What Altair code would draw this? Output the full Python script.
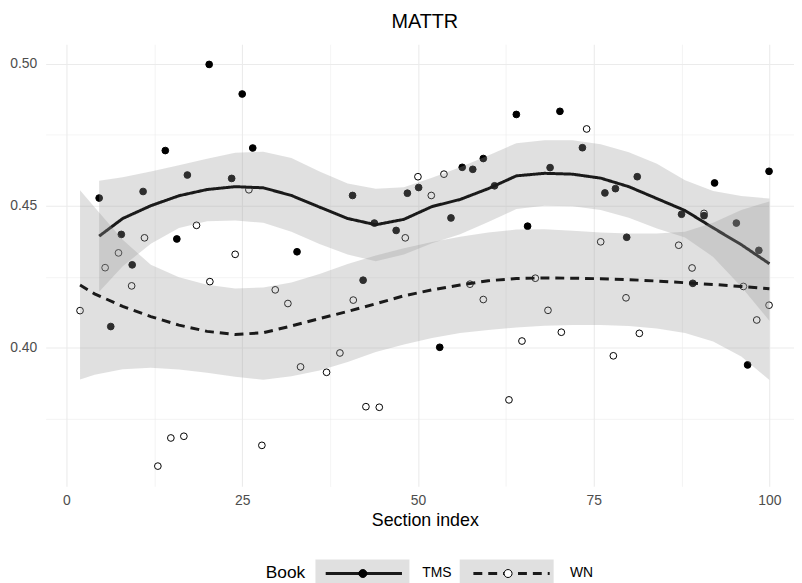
import altair as alt
import pandas as pd

F = "Liberation Sans"

# ---- observed points ----
TMS_x = [4.65, 6.3, 7.8, 9.35, 10.9, 14.06, 15.7, 17.2, 20.3, 23.5, 25.0, 26.5, 32.8, 40.7,
         42.2, 43.8, 46.9, 48.5, 50.1, 53.1, 54.7, 56.3, 57.8, 59.3, 60.9, 64.0, 65.6, 68.8,
         70.2, 73.4, 76.6, 78.1, 79.7, 81.2, 87.5, 89.1, 90.7, 92.2, 95.3, 96.9, 98.5, 99.95]
TMS_y = [0.4527, 0.4075, 0.4399, 0.4292, 0.4550, 0.4694, 0.4383, 0.4608, 0.4997, 0.4596,
         0.4893, 0.4703, 0.4338, 0.4536, 0.4238, 0.4439, 0.4413, 0.4544, 0.4564, 0.4002,
         0.4457, 0.4635, 0.4628, 0.4666, 0.4570, 0.4821, 0.4428, 0.4634, 0.4832, 0.4704,
         0.4545, 0.4560, 0.4389, 0.4602, 0.4470, 0.4227, 0.4465, 0.4580, 0.4439, 0.3940,
         0.4343, 0.4621]

WN_x = [1.93, 5.5, 7.4, 9.27, 11.1, 13.0, 14.85, 16.7, 18.5, 20.4, 24.0, 25.95, 27.8, 29.7,
        31.5, 33.3, 37.0, 38.9, 40.8, 42.6, 44.5, 48.2, 50.0, 51.9, 53.7, 57.4, 59.3, 62.95,
        64.8, 66.7, 68.5, 70.4, 74.0, 76.0, 77.8, 79.6, 81.5, 87.1, 89.0, 90.7, 96.3, 98.2, 99.95]
WN_y = [0.4131, 0.4282, 0.4334, 0.4218, 0.4387, 0.3584, 0.3683, 0.3689, 0.4431, 0.4233,
        0.4329, 0.4556, 0.3657, 0.4204, 0.4156, 0.3933, 0.3914, 0.3982, 0.4168, 0.3793,
        0.3791, 0.4387, 0.4602, 0.4536, 0.4611, 0.4224, 0.4170, 0.3817, 0.4024, 0.4245,
        0.4132, 0.4055, 0.4770, 0.4373, 0.3972, 0.4176, 0.4051, 0.4361, 0.4281, 0.4473,
        0.4216, 0.4098, 0.4150]

# ---- smoothed fits with confidence bands ----
TMS_fx = [4.65, 8, 12, 16, 20, 24, 28, 32, 36, 40, 44, 48, 52, 56, 60, 64, 68, 72, 76, 80,
          84, 88, 92, 96, 100]
TMS_fit = [0.4393, 0.4455, 0.4500, 0.4535, 0.4557, 0.4567, 0.4563, 0.4536, 0.4495, 0.4455,
           0.4433, 0.4452, 0.4497, 0.4522, 0.4560, 0.4605, 0.4614, 0.4611, 0.4597, 0.4567,
           0.4525, 0.4483, 0.4422, 0.4363, 0.4296]
TMS_lo = [0.4197, 0.4287, 0.4366, 0.4422, 0.4445, 0.4448, 0.4440, 0.4408, 0.4365, 0.4328,
          0.4305, 0.4328, 0.4368, 0.4400, 0.4443, 0.4488, 0.4500, 0.4498, 0.4485, 0.4458,
          0.4420, 0.4388, 0.4320, 0.4215, 0.4095]
TMS_hi = [0.4588, 0.4600, 0.4620, 0.4642, 0.4665, 0.4686, 0.4690, 0.4668, 0.4620, 0.4578,
          0.4560, 0.4565, 0.4598, 0.4635, 0.4677, 0.4720, 0.4730, 0.4730, 0.4716, 0.4688,
          0.4648, 0.4590, 0.4552, 0.4534, 0.4525]

WN_fx = [1.93, 4, 8, 12, 16, 20, 24, 28, 32, 36, 40, 44, 48, 52, 56, 60, 64, 68, 72, 76,
         80, 84, 88, 92, 96, 100]
WN_fit = [0.4221, 0.4190, 0.4146, 0.4110, 0.4080, 0.4058, 0.4047, 0.4053, 0.4077, 0.4103,
          0.4128, 0.4155, 0.4183, 0.4204, 0.4221, 0.4236, 0.4244, 0.4246, 0.4245, 0.4243,
          0.4240, 0.4235, 0.4229, 0.4223, 0.4216, 0.4208]
WN_lo = [0.3889, 0.3905, 0.3925, 0.3930, 0.3924, 0.3912, 0.3898, 0.3888, 0.3900, 0.3920,
         0.3950, 0.3985, 0.4012, 0.4035, 0.4052, 0.4063, 0.4072, 0.4078, 0.4080, 0.4080,
         0.4077, 0.4068, 0.4052, 0.4022, 0.3970, 0.3887]
WN_hi = [0.4554, 0.4495, 0.4380, 0.4292, 0.4248, 0.4222, 0.4209, 0.4212, 0.4230, 0.4260,
         0.4295, 0.4325, 0.4350, 0.4372, 0.4391, 0.4406, 0.4416, 0.4417, 0.4412, 0.4406,
         0.4402, 0.4402, 0.4408, 0.4440, 0.4485, 0.4515]

BOOKS = ["TMS", "WN"]
X_TICKS = [0, 12.5, 25, 37.5, 50, 62.5, 75, 87.5, 100]
Y_TICKS = [0.375, 0.40, 0.425, 0.45, 0.475, 0.50]

pts = pd.DataFrame({
    "x": WN_x + TMS_x,
    "y": WN_y + TMS_y,
    "Book": ["WN"] * len(WN_x) + ["TMS"] * len(TMS_x),
})
sm = pd.DataFrame({
    "x": TMS_fx + WN_fx,
    "fit": TMS_fit + WN_fit,
    "lo": TMS_lo + WN_lo,
    "hi": TMS_hi + WN_hi,
    "Book": ["TMS"] * len(TMS_fx) + ["WN"] * len(WN_fx),
})

major_test_x = "datum.value % 25 == 0"
major_test_y = "abs(datum.value * 20 - round(datum.value * 20)) < 0.0001"

xaxis = alt.Axis(
    values=X_TICKS, title="Section index", grid=True, ticks=False, domain=False,
    tickSize=0, labelPadding=7, titlePadding=5, labelFlush=False, labelOverlap=False,
    titleX=382.5, titleAlign="center", titleAnchor="start",
    labelExpr=f"{major_test_x} ? format(datum.value, 'd') : ''",
    gridWidth={"condition": {"test": major_test_x, "value": 1.1}, "value": 0.55},
)
yaxis = alt.Axis(
    values=Y_TICKS, title=None, grid=True, ticks=False, domain=False, tickSize=0,
    labelPadding=9, labelFlush=False, labelOverlap=False,
    labelExpr=f"{major_test_y} ? format(datum.value, '.2f') : ''",
    gridWidth={"condition": {"test": major_test_y, "value": 1.1}, "value": 0.55},
)
xs = alt.Scale(domain=[-2.96, 103.5], nice=False, zero=False)
ys = alt.Scale(domain=[0.3513, 0.5068], nice=False, zero=False)

LX, LY = 222, 519
common_leg = dict(
    orient="none", legendX=LX, legendY=LY, direction="horizontal",
    title="Book", titleOrient="left", titleFontSize=17.5, titleFontWeight="normal",
    titleColor="#000000", titleFont=F, titlePadding=10, titleAnchor="middle",
    titleBaseline="middle",
    labelFontSize=14, labelFont=F, labelColor="#000000", labelOffset=10,
    symbolSize=9025, clipHeight=30,
)
# visible legend: line keys with labels
legA = alt.Legend(symbolType="M-0.81,0L0.81,0", symbolStrokeWidth=3,
                  symbolStrokeColor="#1a1a1a", symbolFillColor="transparent",
                  columnPadding=11, zindex=1, **common_leg)
# point keys overlaid on the same spots (no label text)
legB = alt.Legend(symbolType="M0.085,0A0.085,0.085 0 1 1 -0.085,0A0.085,0.085 0 1 1 0.085,0Z",
                  symbolStrokeWidth=1, symbolStrokeColor="#000000",
                  labelExpr="''", titleOpacity=0, columnPadding=40.5, zindex=2, **common_leg)
# grey key backgrounds under them
legC = alt.Legend(symbolType="M-1,-0.3L1,-0.3L1,0.3L-1,0.3Z",
                  symbolStrokeWidth=0, labelExpr="''", titleOpacity=0,
                  columnPadding=40.5, zindex=0, **common_leg)

points = alt.Chart(pts).transform_calculate(BookP="datum.Book").mark_point(
    shape="circle", filled=True, size=46, stroke="#000000", strokeWidth=1, opacity=1
).encode(
    x=alt.X("x:Q", scale=xs, axis=xaxis),
    y=alt.Y("y:Q", scale=ys, axis=yaxis),
    fill=alt.Fill("BookP:N", scale=alt.Scale(range=["#000000", "#ffffff"]), legend=legB),
)


def band(book):
    return alt.Chart(sm).transform_filter(f"datum.Book == '{book}'").transform_calculate(
        BookG="datum.Book"
    ).mark_area(opacity=0.3, line=False).encode(
        x=alt.X("x:Q", scale=xs, axis=xaxis),
        y=alt.Y("lo:Q", scale=ys, axis=yaxis),
        y2="hi:Q",
        color=alt.Color("BookG:N", scale=alt.Scale(range=["#999999", "#999999"]), legend=legC),
    )


def fitline(book):
    return alt.Chart(sm).transform_filter(f"datum.Book == '{book}'").mark_line(
        color="#1a1a1a", strokeWidth=3, strokeCap="butt"
    ).encode(
        x=alt.X("x:Q", scale=xs, axis=xaxis),
        y=alt.Y("fit:Q", scale=ys, axis=yaxis),
        strokeDash=alt.StrokeDash("Book:N", scale=alt.Scale(range=[[1, 0], [9, 6]]), legend=legA),
    )


chart = alt.layer(
    points, band("TMS"), fitline("TMS"), band("WN"), fitline("WN")
).properties(
    width=755, height=446,
    title=alt.TitleParams("MATTR", anchor="middle", fontSize=20, fontWeight="normal",
                          font=F, color="#000000", baseline="alphabetic", offset=0,
                          dx=5, dy=4),
    autosize=alt.AutoSizeParams(type="none"),
    padding={"left": 38, "top": 34, "right": 0, "bottom": 95},
).configure(font=F, background="white").configure_view(stroke=None).configure_axis(
    labelFont=F, labelFontSize=14, labelColor="#4d4d4d", gridColor="#ebebeb",
    titleFont=F, titleFontSize=18, titleFontWeight="normal", titleColor="#000000",
)

chart.save("out.html", embed_options={"renderer": "svg", "actions": False})
